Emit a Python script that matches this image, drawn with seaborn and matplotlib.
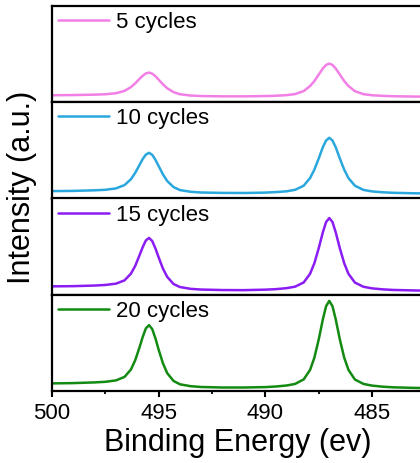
import matplotlib
matplotlib.use("Agg")
import matplotlib.pyplot as plt
import seaborn as sns
import pandas as pd
from matplotlib.ticker import MultipleLocator

# ---------------- data ----------------
energy = [500.0, 499.0, 498.0, 497.5, 497.0, 496.6, 496.3, 496.1, 495.9, 495.75, 495.6, 495.45,
          495.3, 495.15, 495.0, 494.8, 494.6, 494.3, 494.0, 493.5, 493.0, 492.0, 491.0, 490.0,
          489.5, 489.0, 488.6, 488.2, 487.9, 487.7, 487.5, 487.3, 487.15, 487.0, 486.85, 486.7,
          486.5, 486.3, 486.1, 485.8, 485.4, 485.0, 484.5, 484.0, 483.0, 482.0, 481.0, 480.0]

labels = ["5 cycles", "10 cycles", "15 cycles", "20 cycles"]
colors = ["#F27FE6", "#2AA7DD", "#8B1CF2", "#138A12"]

int_5 = [7.0, 7.2, 7.6, 8.0, 9.0, 11.4, 15.1, 18.9, 23.3, 26.4, 28.8, 29.7,
         28.6, 26.0, 22.6, 18.0, 14.0, 10.1, 8.0, 6.7, 6.2, 5.9, 5.9, 6.2,
         6.5, 7.1, 8.2, 11.2, 16.2, 21.2, 27.5, 33.8, 37.3, 38.7, 37.3, 33.8,
         27.5, 21.2, 16.2, 11.1, 8.1, 7.0, 6.4, 6.0, 5.7, 5.5, 5.4, 5.4]
int_10 = [7.4, 7.6, 8.2, 8.7, 10.1, 13.4, 19.3, 25.6, 33.4, 39.4, 43.9, 45.7,
          43.6, 38.7, 32.4, 24.2, 17.5, 11.4, 8.4, 6.7, 6.0, 5.6, 5.5, 5.9,
          6.4, 7.2, 8.7, 12.8, 20.5, 28.8, 39.8, 51.4, 58.0, 60.7, 58.0, 51.3,
          39.7, 28.8, 20.4, 12.8, 8.6, 7.1, 6.2, 5.7, 5.2, 5.0, 4.9, 4.8]
int_15 = [8.4, 8.6, 9.2, 9.8, 11.1, 14.4, 21.1, 28.8, 39.3, 47.5, 54.3, 56.8,
          53.7, 46.3, 37.4, 26.2, 17.9, 10.7, 7.7, 5.9, 5.2, 4.7, 4.6, 5.1,
          5.6, 6.6, 8.1, 12.3, 21.0, 31.5, 46.2, 62.6, 72.7, 76.7, 72.7, 62.5,
          46.1, 31.5, 20.9, 12.2, 8.0, 6.4, 5.4, 4.8, 4.3, 4.0, 3.9, 3.8]
int_20 = [7.6, 7.9, 8.6, 9.2, 10.6, 14.1, 21.5, 30.7, 43.4, 53.9, 62.6, 65.9,
          61.9, 52.6, 41.3, 27.8, 17.9, 10.0, 6.7, 4.8, 4.0, 3.5, 3.5, 3.9,
          4.5, 5.5, 7.1, 11.6, 21.1, 33.3, 51.1, 71.8, 84.8, 90.1, 84.8, 71.8,
          51.1, 33.3, 21.1, 11.5, 7.1, 5.4, 4.3, 3.7, 3.1, 2.8, 2.6, 2.5]
series = [int_5, int_10, int_15, int_20]

xticks = [500, 495, 490, 485]
xlabel = "Binding Energy (ev)"
ylabel = "Intensity (a.u.)"

# ---------------- style ----------------
sns.set_theme(style="white")
plt.rcParams['font.family'] = ['Liberation Sans', 'DejaVu Sans']
plt.rcParams['text.color'] = 'black'
plt.rcParams['xtick.color'] = 'black'
plt.rcParams['axes.edgecolor'] = 'black'

W, H = 420, 463
fig = plt.figure(figsize=(W / 100, H / 100), dpi=100)

left_px, top_px, panel_px = 52, 6, 96.25
px_per_ev = 21.33
x_lo, x_hi = 500, 480
width_px = (x_lo - x_hi) * px_per_ev

for i, (lab, vals, col) in enumerate(zip(labels, series, colors)):
    y_bottom = top_px + panel_px * (i + 1)
    ax = fig.add_axes([left_px / W, 1 - y_bottom / H, width_px / W, panel_px / H])
    df = pd.DataFrame({"energy": energy, "intensity": vals})
    sns.lineplot(data=df, x="energy", y="intensity", ax=ax, color=col,
                 linewidth=1.8, label=lab)
    ax.set_xlim(x_lo, x_hi)
    ax.set_ylim(0, panel_px)
    ax.set_yticks([])
    ax.set_xlabel("")
    ax.set_ylabel("")
    for s in ax.spines.values():
        s.set_linewidth(1.6)
        s.set_color("black")
    ax.legend(loc="upper left", bbox_to_anchor=(6 / width_px, 1 - 6 / panel_px),
              frameon=False, fontsize=16, handlelength=2.3, handletextpad=0.3,
              borderpad=0, borderaxespad=0)
    if i < 3:
        ax.set_xticks([])
        ax.tick_params(bottom=False, labelbottom=False)
    else:
        ax.set_xticks(xticks)
        ax.xaxis.set_minor_locator(MultipleLocator(2.5))
        ax.tick_params(axis="x", which="major", bottom=True, direction="out",
                       length=4.5, width=1.5, labelsize=16, pad=4)
        ax.tick_params(axis="x", which="minor", bottom=True, direction="out",
                       length=2.5, width=1.3)

fig.text(22 / W, 1 - 187 / H, ylabel, rotation=90, ha="center", va="center", fontsize=22)
fig.text(238 / W, 1 - 451.5 / H, xlabel, ha="center", va="baseline", fontsize=22)

fig.savefig("out.png", dpi=100)
